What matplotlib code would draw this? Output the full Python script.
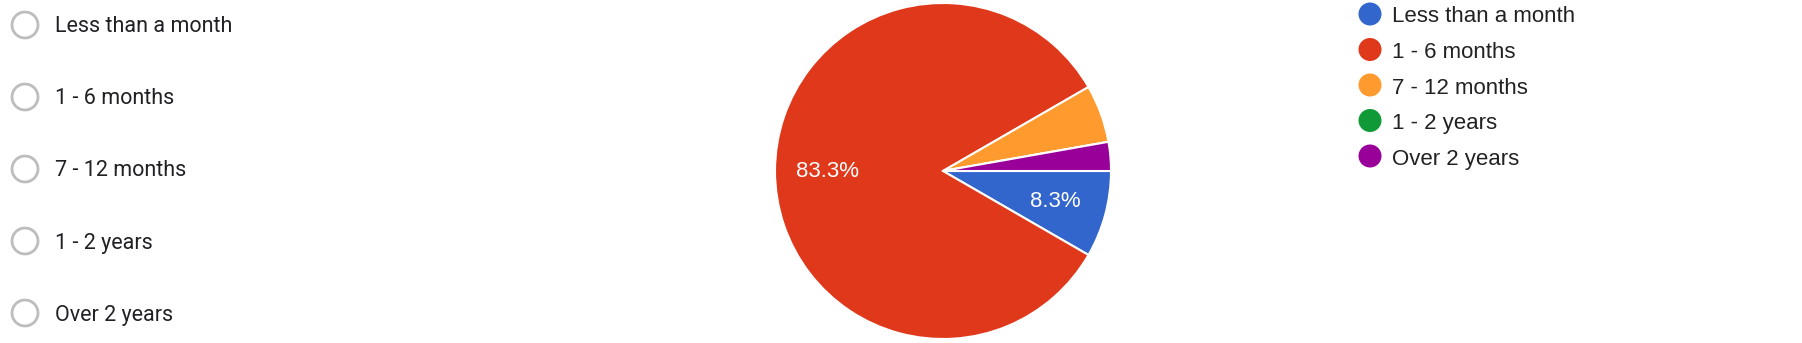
import matplotlib.pyplot as plt
from matplotlib.patches import Circle

categories = ["Less than a month", "1 - 6 months", "7 - 12 months", "1 - 2 years", "Over 2 years"]
counts = [3, 30, 2, 0, 1]
colors = ["#3366cc", "#e0381a", "#ff9a2e", "#0f9a37", "#990099"]

W, H = 1802, 343
fig = plt.figure(figsize=(W / 100, H / 100), dpi=100)

# overlay in pixel coords for radio list and legend
bg = fig.add_axes([0, 0, 1, 1])
bg.set_xlim(0, W)
bg.set_ylim(H, 0)
bg.set_aspect("auto")
bg.axis("off")

# radio buttons on the left
for i, cat in enumerate(categories):
    cy = 25 + i * 72
    bg.add_patch(Circle((25, cy), 13, facecolor="white", edgecolor="#bdbdbd", lw=2.0))
    bg.text(55, cy + 7.5, cat, fontsize=15.5, family=["Roboto", "DejaVu Sans"],
            color="#202124", va="baseline", ha="left")

# legend on the right
for i, (cat, c) in enumerate(zip(categories, colors)):
    cy = 14 + i * 35.5
    bg.add_patch(Circle((1370, cy), 11.5, facecolor=c, edgecolor="none"))
    bg.text(1392, cy + 8.5, cat, fontsize=16, family=["Liberation Sans", "DejaVu Sans"],
            color="#222222", va="baseline", ha="left")

# pie
cx, cy, r = 943, 171, 168
ax = fig.add_axes([(cx - r) / W, (H - cy - r) / H, 2 * r / W, 2 * r / H])
wedges, texts, autotexts = ax.pie(
    counts, colors=colors, startangle=0, counterclock=False,
    wedgeprops=dict(edgecolor="white", linewidth=1.5),
    autopct=lambda p: f"{p:.1f}%" if p > 8 else "",
    pctdistance=0.69,
    textprops=dict(color="white", fontsize=16, family=["Liberation Sans", "DejaVu Sans"]),
)
ax.set_xlim(-1, 1)
ax.set_ylim(-1, 1)
ax.set_aspect("equal")

fig.savefig("out.png", dpi=100)
